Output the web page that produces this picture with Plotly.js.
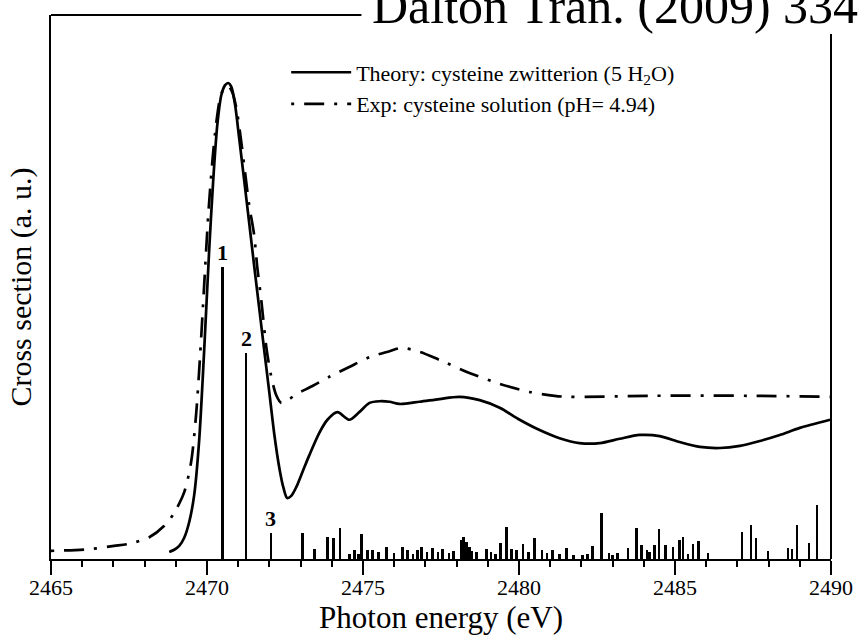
<!DOCTYPE html>
<html>
<head>
<meta charset="utf-8">
<script src="https://cdn.plot.ly/plotly-3.0.1.min.js"></script>
<style>
html,body{margin:0;padding:0;background:#ffffff;}
#chart{width:861px;height:640px;}
</style>
</head>
<body>
<div id="chart"></div>
<script>
// ---- Data ----
const theoryE = [2468.79,2468.95,2469.11,2469.27,2469.43,2469.59,2469.75,2469.91,2470.07,2470.20,2470.33,2470.46,2470.58,2470.68,2470.78,2470.90,2471.03,2471.19,2471.35,2471.51,2471.68,2471.84,2472.00,2472.16,2472.32,2472.45,2472.57,2472.70,2472.86,2473.06,2473.28,2473.60,2473.86,2474.18,2474.56,2474.88,2475.21,2475.53,2475.85,2476.17,2476.81,2477.45,2478.09,2478.74,2479.38,2480.02,2480.66,2481.30,2481.94,2482.59,2483.23,2483.87,2484.51,2485.15,2485.80,2486.44,2487.08,2487.72,2488.36,2489.00,2489.97];
const theoryV = [1.3,1.7,2.4,3.9,6.8,11.8,21.9,38.4,56.8,69.7,79.8,85.3,87.1,87.5,86.8,83.5,77.4,69.7,61.9,54.0,45.8,38.1,30.5,22.8,16.7,13.1,11.2,11.6,13.2,16.0,19.1,23.2,25.6,27.0,25.6,27.0,28.7,29.0,28.9,28.5,28.9,29.4,29.8,29.2,27.8,25.6,23.7,22.2,21.3,21.3,22.1,22.8,22.6,21.5,20.6,20.4,20.8,21.7,22.8,24.1,25.6];

const expE = [2465.00,2466.22,2467.02,2467.50,2468.15,2468.63,2468.95,2469.27,2469.49,2469.65,2469.78,2469.91,2470.04,2470.17,2470.30,2470.42,2470.55,2470.68,2470.81,2470.94,2471.07,2471.23,2471.35,2471.51,2471.61,2471.74,2471.90,2472.06,2472.22,2472.38,2472.64,2472.86,2473.38,2473.92,2474.56,2475.21,2475.85,2476.23,2476.81,2477.45,2478.41,2479.38,2480.34,2481.14,2481.62,2484.19,2487.40,2490.00];
const expV = [1.5,1.8,2.4,2.8,4.0,6.1,8.5,12.3,17.8,26.5,37.5,50.4,63.2,73.0,80.3,84.7,86.6,86.9,85.8,82.9,77.9,70.6,65.1,59.6,53.7,47.6,39.0,33.5,30.1,28.7,29.4,30.3,31.8,33.5,35.3,37.1,38.2,38.8,38.1,36.6,34.2,32.2,30.7,30.0,29.8,30.0,30.0,29.8];

const stickE = [2470.49,2471.25,2472.05,2473.06,2473.44,2473.86,2474.05,2474.27,2474.56,2474.72,2474.85,2474.95,2475.14,2475.30,2475.50,2475.75,2476.00,2476.26,2476.42,2476.60,2476.75,2476.87,2477.05,2477.23,2477.40,2477.55,2477.75,2477.90,2478.16,2478.22,2478.32,2478.41,2478.50,2478.64,2478.96,2479.10,2479.25,2479.41,2479.60,2479.76,2479.92,2480.12,2480.30,2480.50,2480.73,2480.90,2481.08,2481.30,2481.53,2481.75,2482.04,2482.20,2482.36,2482.65,2482.88,2483.00,2483.16,2483.49,2483.77,2483.93,2484.10,2484.19,2484.35,2484.48,2484.70,2484.93,2485.15,2485.25,2485.41,2485.57,2485.76,2486.05,2487.14,2487.43,2487.59,2487.98,2488.62,2488.75,2488.91,2489.29,2489.55];
const stickV = [53.7,37.9,4.8,4.8,1.8,4.0,3.9,5.7,0.9,1.7,1.0,4.6,1.7,1.7,1.2,2.2,1.1,2.2,1.7,1.0,1.7,2.2,1.2,2.0,1.3,1.8,1.1,1.5,3.5,4.0,3.1,2.2,1.4,1.3,1.8,1.2,1.0,2.9,5.9,1.8,1.7,2.8,1.2,3.9,1.7,1.1,1.7,0.9,2.0,0.8,0.7,0.9,2.4,8.5,1.1,0.7,1.1,2.0,5.7,2.6,1.7,1.3,2.6,5.5,2.6,2.2,3.5,4.0,0.9,2.8,3.3,1.1,5.0,6.3,3.9,1.5,2.0,1.8,6.3,2.9,9.9];
const stickLabelIndex = [0,1,2];
const stickLabelText = ["1","2","3"];

const xTickVals = [2465,2470,2475,2480,2485,2490];
const xTickText = ["2465","2470","2475","2480","2485","2490"];

const seriesNames = ["Theory: cysteine zwitterion (5 H<sub>2</sub>O)", "Exp: cysteine solution (pH= 4.94)"];
const titleText = "Dalton Tran. (2009) 334";
const xTitle = "Photon energy (eV)";
const yTitle = "Cross section (a. u.)";

// ---- Chart ----
const serif = "Liberation Serif, Times New Roman, serif";

const traces = [
  {
    x: theoryE, y: theoryV, type: "scatter", mode: "lines",
    name: seriesNames[0],
    line: {color: "#000000", width: 2.7, shape: "spline", smoothing: 0.8}
  },
  {
    x: expE, y: expV, type: "scatter", mode: "lines",
    name: seriesNames[1],
    line: {color: "#000000", width: 2.7, dash: "3px,10px,20px,10px", shape: "spline", smoothing: 0.8}
  },
  {
    x: stickE, y: stickV, type: "bar", width: 0.08,
    marker: {color: "#000000", line: {width: 0}},
    showlegend: false, hoverinfo: "skip"
  }
];

const annotations = stickLabelIndex.map((idx, k) => ({
  x: stickE[idx], y: stickV[idx], xref: "x", yref: "y",
  text: stickLabelText[k], showarrow: false,
  xanchor: "center", yanchor: "bottom", yshift: 0,
  font: {family: serif, size: 22, color: "#000000", weight: "bold"}
}));

annotations.push({
  x: 0.4085, y: 0.9605, xref: "paper", yref: "paper",
  xanchor: "left", yanchor: "bottom",
  text: titleText, showarrow: false,
  font: {family: serif, size: 50, color: "#000000"}
});

const layout = {
  width: 861, height: 640,
  margin: {l: 51, r: 30, t: 15, b: 81, pad: 0},
  paper_bgcolor: "#ffffff", plot_bgcolor: "#ffffff",
  showlegend: true,
  bargap: 0,
  legend: {
    x: 0.3015, y: 0.933, xanchor: "left", yanchor: "top",
    bgcolor: "rgba(0,0,0,0)", borderwidth: 0,
    font: {family: serif, size: 22, color: "#000000"},
    itemwidth: 60, tracegroupgap: 0
  },
  xaxis: {
    range: [2465, 2490],
    showline: true, linecolor: "#000000", linewidth: 2,
    showgrid: false, zeroline: false,
    ticks: "outside", ticklen: 14, tickwidth: 2, tickcolor: "#000000",
    tickvals: xTickVals, ticktext: xTickText,
    ticklabelstandoff: -6,
    tickfont: {family: serif, size: 22, color: "#000000"},
    minor: {dtick: 1, tick0: 2465, ticks: "outside", ticklen: 6, tickwidth: 2, tickcolor: "#000000", showgrid: false},
    title: {text: xTitle, font: {family: serif, size: 31, color: "#000000"}, standoff: 0},
    fixedrange: true
  },
  yaxis: {
    range: [0, 100],
    showline: true, linecolor: "#000000", linewidth: 2,
    showgrid: false, zeroline: false,
    ticks: "", showticklabels: false,
    title: {text: yTitle, font: {family: serif, size: 30, color: "#000000"}, standoff: 9},
    fixedrange: true
  },
  shapes: [
    {type: "line", xref: "paper", yref: "paper", x0: 0, x1: 0.398, y0: 1, y1: 1, line: {color: "#000000", width: 2}},
    {type: "line", xref: "paper", yref: "paper", x0: 1, x1: 1, y0: 0, y1: 0.9650, line: {color: "#000000", width: 2}}
  ],
  annotations: annotations
};

Plotly.newPlot("chart", traces, layout, {displayModeBar: false, staticPlot: true});
</script>
</body>
</html>
